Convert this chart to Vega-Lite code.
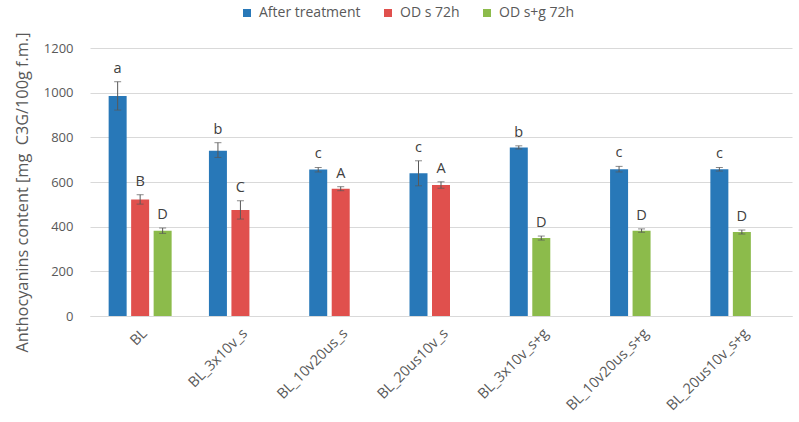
{
  "$schema": "https://vega.github.io/schema/vega-lite/v6.json",
  "width": 702,
  "height": 268,
  "autosize": "none",
  "padding": {"left": 90, "top": 48, "right": 7, "bottom": 106},
  "background": "white",
  "config": {
    "font": "Open Sans",
    "view": {"stroke": null},
    "axis": {"labelFont": "Open Sans", "titleFont": "Open Sans", "labelColor": "#595959", "titleColor": "#595959"},
    "axisY": {"values": [0, 200, 400, 600, 800, 1000, 1200], "format": "d", "labelFontSize": 13, "labelPadding": 17, "ticks": false, "domain": false, "gridColor": "#d9d9d9", "labelOverlap": false, "titleFontSize": 16.3, "titleFontWeight": "normal", "titlePadding": 13, "titleY": 144},
    "legend": {"labelFont": "Open Sans"}
  },
  "data": {
    "values": [
      {"group": "BL", "series": "After treatment", "value": 985, "lo": 922, "hi": 1049, "letter": "a"},
      {"group": "BL", "series": "OD s 72h", "value": 522, "lo": 501, "hi": 543, "letter": "B"},
      {"group": "BL", "series": "OD s+g 72h", "value": 382, "lo": 370, "hi": 394, "letter": "D"},
      {"group": "BL_3x10v_s", "series": "After treatment", "value": 740, "lo": 710, "hi": 776, "letter": "b"},
      {"group": "BL_3x10v_s", "series": "OD s 72h", "value": 475, "lo": 434, "hi": 516, "letter": "C"},
      {"group": "BL_10v20us_s", "series": "After treatment", "value": 656, "lo": 645, "hi": 665, "letter": "c"},
      {"group": "BL_10v20us_s", "series": "OD s 72h", "value": 570, "lo": 561, "hi": 579, "letter": "A"},
      {"group": "BL_20us10v_s", "series": "After treatment", "value": 639, "lo": 583, "hi": 695, "letter": "c"},
      {"group": "BL_20us10v_s", "series": "OD s 72h", "value": 587, "lo": 572, "hi": 601, "letter": "A"},
      {"group": "BL_3x10v_s+g", "series": "After treatment", "value": 755, "lo": 748, "hi": 762, "letter": "b"},
      {"group": "BL_3x10v_s+g", "series": "OD s+g 72h", "value": 349, "lo": 340, "hi": 358, "letter": "D"},
      {"group": "BL_10v20us_s+g", "series": "After treatment", "value": 657, "lo": 645, "hi": 670, "letter": "c"},
      {"group": "BL_10v20us_s+g", "series": "OD s+g 72h", "value": 382, "lo": 375, "hi": 390, "letter": "D"},
      {"group": "BL_20us10v_s+g", "series": "After treatment", "value": 657, "lo": 649, "hi": 665, "letter": "c"},
      {"group": "BL_20us10v_s+g", "series": "OD s+g 72h", "value": 376, "lo": 367, "hi": 385, "letter": "D"}
    ]
  },
  "encoding": {
    "x": {
      "field": "group", "type": "nominal",
      "sort": ["BL", "BL_3x10v_s", "BL_10v20us_s", "BL_20us10v_s", "BL_3x10v_s+g", "BL_10v20us_s+g", "BL_20us10v_s+g"],
      "scale": {"paddingInner": 0, "paddingOuter": 0},
      "axis": {"title": null, "labelAngle": -45, "labelAlign": "right", "labelBaseline": "top", "labelFontSize": 14.5, "labelPadding": 10, "ticks": false, "domainColor": "#d9d9d9", "domainWidth": 1, "grid": false}
    }
  },
  "layer": [
    {
      "transform": [{"filter": "indexof(datum.group, 's+g') < 0"}],
      "encoding": {
        "xOffset": {"field": "series", "type": "nominal", "scale": {"domain": ["After treatment", "OD s 72h", "OD s+g 72h"], "paddingInner": 0, "paddingOuter": 0.729}}
      },
      "layer": [
        {
          "mark": {"type": "bar", "size": 18},
          "encoding": {
            "y": {"field": "value", "type": "quantitative", "scale": {"domain": [0, 1200]}, "title": "Anthocyanins content [mg\u00a0\u00a0C3G/100g f.m.]"},
            "color": {"field": "series", "type": "nominal", "scale": {"domain": ["After treatment", "OD s 72h", "OD s+g 72h"], "range": ["#2878b8", "#e0504d", "#8cbb4b"]},
              "legend": {"title": null, "orient": "none", "direction": "horizontal", "legendX": 150, "legendY": -42, "symbolType": "square", "symbolSize": 64, "symbolStrokeWidth": 0, "labelFontSize": 14, "labelColor": "#595959", "columnPadding": 20, "labelOffset": 5}}
          }
        },
        {"mark": {"type": "rule", "color": "#595959", "strokeWidth": 1}, "encoding": {"y": {"field": "lo", "type": "quantitative"}, "y2": {"field": "hi"}}},
        {"mark": {"type": "tick", "color": "#595959", "size": 7, "thickness": 1, "orient": "horizontal"}, "encoding": {"y": {"field": "lo", "type": "quantitative"}}},
        {"mark": {"type": "tick", "color": "#595959", "size": 7, "thickness": 1, "orient": "horizontal"}, "encoding": {"y": {"field": "hi", "type": "quantitative"}}},
        {"mark": {"type": "text", "baseline": "bottom", "dy": -6, "fontSize": 14.5, "color": "#404040"}, "encoding": {"y": {"field": "hi", "type": "quantitative"}, "text": {"field": "letter"}}}
      ]
    },
    {
      "transform": [{"filter": "indexof(datum.group, 's+g') >= 0"}],
      "encoding": {
        "xOffset": {"field": "series", "type": "nominal", "scale": {"domain": ["After treatment", "OD s+g 72h", "OD s 72h"], "paddingInner": 0, "paddingOuter": 0.729}}
      },
      "layer": [
        {
          "mark": {"type": "bar", "size": 18},
          "encoding": {
            "y": {"field": "value", "type": "quantitative"},
            "color": {"field": "series", "type": "nominal"}
          }
        },
        {"mark": {"type": "rule", "color": "#595959", "strokeWidth": 1}, "encoding": {"y": {"field": "lo", "type": "quantitative"}, "y2": {"field": "hi"}}},
        {"mark": {"type": "tick", "color": "#595959", "size": 7, "thickness": 1, "orient": "horizontal"}, "encoding": {"y": {"field": "lo", "type": "quantitative"}}},
        {"mark": {"type": "tick", "color": "#595959", "size": 7, "thickness": 1, "orient": "horizontal"}, "encoding": {"y": {"field": "hi", "type": "quantitative"}}},
        {"mark": {"type": "text", "baseline": "bottom", "dy": -6, "fontSize": 14.5, "color": "#404040"}, "encoding": {"y": {"field": "hi", "type": "quantitative"}, "text": {"field": "letter"}}}
      ]
    }
  ],
  "resolve": {"scale": {"xOffset": "independent"}}
}
